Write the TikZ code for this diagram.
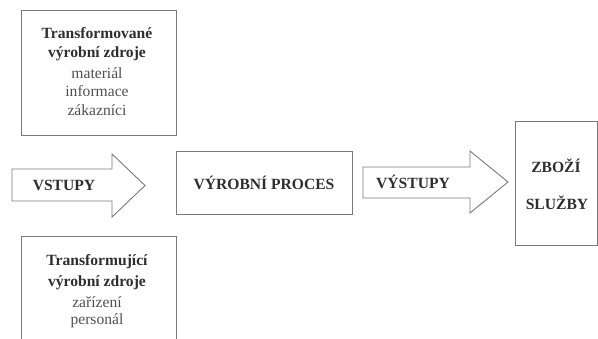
\documentclass[tikz,border=0pt]{standalone}
\usepackage{fontspec}
\setmainfont{Liberation Serif}
\definecolor{bordergray}{HTML}{7A7A7A}
\definecolor{boldgray}{HTML}{2E2E2E}
\definecolor{textgray}{HTML}{505050}
\begin{document}
\begin{tikzpicture}[x=1pt,y=-1pt,
  box/.style={draw=bordergray,line width=0.9pt},
  btxt/.style={text=boldgray,font=\fontsize{15.6}{19}\selectfont\bfseries,inner sep=0pt},
  ntxt/.style={text=textgray,font=\fontsize{15.6}{19}\selectfont,inner sep=0pt}]
\useasboundingbox (0,0) rectangle (598,338);
\clip (0,0) rectangle (598,338);
% boxes
\draw[box] (21,10) rectangle (176,135);
\draw[box] (21,236) rectangle (176,350);
\draw[box] (176,151) rectangle (352,214);
\draw[box] (515,121) rectangle (597.5,245);
% arrows
\draw[box,line join=miter] (12,169) -- (112,169) -- (112,154) -- (145,185.5) -- (112,217) -- (112,201) -- (12,201) -- cycle;
\draw[box,line join=miter] (363,167) -- (470,167) -- (470,151) -- (508,182) -- (470,213) -- (470,198) -- (363,198) -- cycle;
% texts
\node[btxt] (t1) at (97,33) {Transformované};
\node[btxt] (t2) at (97,54) {výrobní zdroje};
\node[ntxt] (t3) at (97,73) {materiál};
\node[ntxt] (t4) at (97,91.5) {informace};
\node[ntxt] (t5) at (97,110) {zákazníci};
\node[btxt] (b1) at (97,262) {Transformující};
\node[btxt] (b2) at (97,283) {výrobní zdroje};
\node[ntxt] (b3) at (97,302) {zařízení};
\node[ntxt] (b4) at (97,320.5) {personál};
\node[btxt] (vst) at (64,185) {VSTUPY};
\node[btxt] (proc) at (264,183) {VÝROBNÍ PROCES};
\node[btxt] (vyst) at (413,182) {VÝSTUPY};
\node[btxt] (zb) at (556,166) {ZBOŽÍ};
\node[btxt] (sl) at (557,203) {SLUŽBY};
\end{tikzpicture}
\end{document}
